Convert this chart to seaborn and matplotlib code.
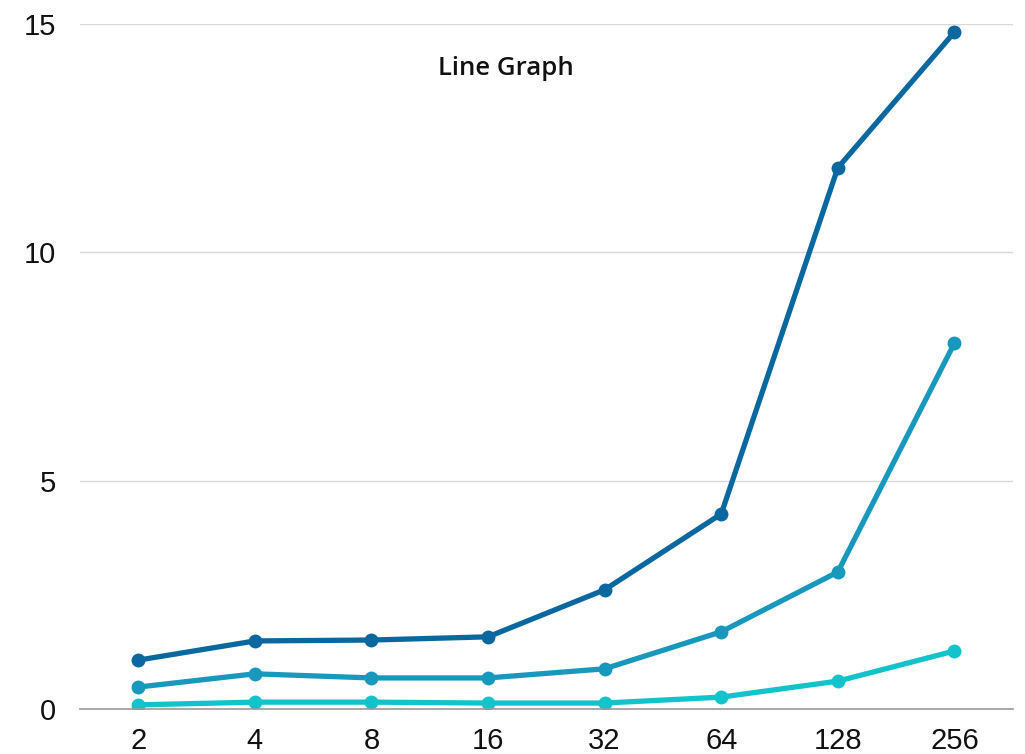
import matplotlib
matplotlib.use("Agg")
import matplotlib.pyplot as plt
import seaborn as sns
import pandas as pd

categories = ["2", "4", "8", "16", "32", "64", "128", "256"]
series_a = [1.07, 1.49, 1.51, 1.58, 2.61, 4.27, 11.85, 14.82]
series_b = [0.48, 0.77, 0.68, 0.68, 0.88, 1.69, 3.00, 8.01]
series_c = [0.09, 0.15, 0.15, 0.13, 0.13, 0.26, 0.61, 1.27]
series_names = ["A", "B", "C"]
colors = ["#0b67a0", "#1898bd", "#13c3cb"]
y_ticks = [0, 5, 10, 15]

rows = []
for name, vals in zip(series_names, [series_a, series_b, series_c]):
    for c, v in zip(categories, vals):
        rows.append({"x": c, "y": v, "series": name})
df = pd.DataFrame(rows)

sns.set_theme(style="white")
plt.rcParams["font.family"] = ["Liberation Sans", "DejaVu Sans"]

fig = plt.figure(figsize=(10.25, 7.54), dpi=100)
ax = fig.add_axes([0.078, 0.0597, 0.910, 0.9085])

sns.lineplot(data=df, x="x", y="y", hue="series", palette=colors, sort=False,
             marker="o", markersize=10, markeredgewidth=0, linewidth=3.8,
             legend=False, ax=ax)

ax.set_xlim(-0.5, len(categories) - 0.5)
ax.set_ylim(0, 15)
ax.set_yticks(y_ticks)
ax.set_yticklabels([str(t) for t in y_ticks])
ax.set_xlabel("")
ax.set_ylabel("")
ax.grid(axis="y", color="#d9d9d9", linewidth=1)
ax.set_axisbelow(True)
for s in ["top", "right", "left"]:
    ax.spines[s].set_visible(False)
ax.spines["bottom"].set_color("#9a9a9a")
ax.spines["bottom"].set_linewidth(1.2)
ax.tick_params(axis="both", length=0, labelsize=21, colors="#111111")
ax.tick_params(axis="x", pad=13)
ax.tick_params(axis="y", pad=17)

fig.text(0.494, 0.909, "Line Graph", ha="center", va="center", fontsize=18.5,
         fontweight="semibold", family=["Open Sans", "DejaVu Sans"], color="#111111")

fig.savefig("out.png", dpi=100)
